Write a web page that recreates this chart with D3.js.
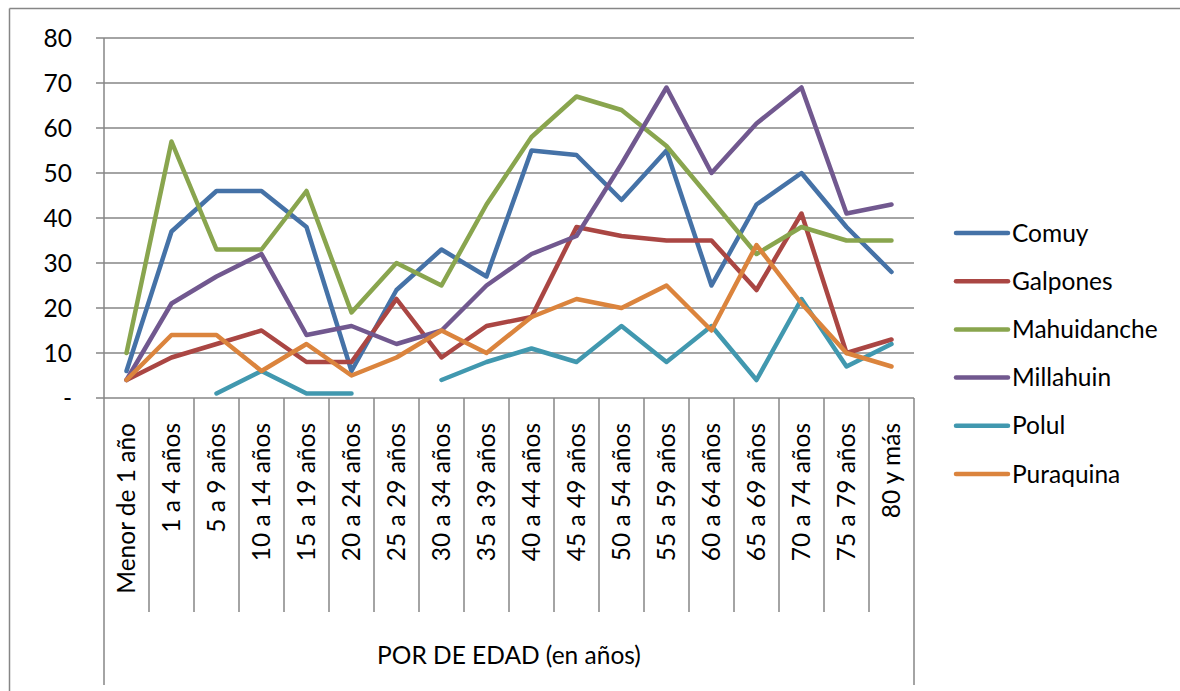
<!DOCTYPE html>
<html>
<head>
<meta charset="utf-8">
<script src="https://cdn.jsdelivr.net/npm/d3@7"></script>
<style>
  body { margin: 0; background: #fff; }
  svg { display: block; }
  text { font-family: Lato, "Open Sans", sans-serif; fill: #000; }
</style>
</head>
<body>
<svg width="1180" height="691"></svg>
<script>
var categories = ["Menor de 1 año", "1 a 4 años", "5 a 9 años", "10 a 14 años", "15 a 19 años",
  "20 a 24 años", "25 a 29 años", "30 a 34 años", "35 a 39 años", "40 a 44 años", "45 a 49 años",
  "50 a 54 años", "55 a 59 años", "60 a 64 años", "65 a 69 años", "70 a 74 años", "75 a 79 años", "80 y más"];

var seriesNames = ["Comuy", "Galpones", "Mahuidanche", "Millahuin", "Polul", "Puraquina"];

var comuy       = [6, 37, 46, 46, 38, 6, 24, 33, 27, 55, 54, 44, 55, 25, 43, 50, 38, 28];
var galpones    = [4, 9, 12, 15, 8, 8, 22, 9, 16, 18, 38, 36, 35, 35, 24, 41, 10, 13];
var mahuidanche = [10, 57, 33, 33, 46, 19, 30, 25, 43, 58, 67, 64, 56, 44, 32, 38, 35, 35];
var millahuin   = [4, 21, 27, 32, 14, 16, 12, 15, 25, 32, 36, 52, 69, 50, 61, 69, 41, 43];
var polul       = [null, null, 1, 6, 1, 1, null, 4, 8, 11, 8, 16, 8, 16, 4, 22, 7, 12];
var puraquina   = [4, 14, 14, 6, 12, 5, 9, 15, 10, 18, 22, 20, 25, 15, 34, 21, 10, 7];

var yTicks = [0, 10, 20, 30, 40, 50, 60, 70, 80];
var xTitle = "POR DE EDAD (en años)";

var seriesValues = [comuy, galpones, mahuidanche, millahuin, polul, puraquina];
var colors = ["#4572A7", "#AA4643", "#89A54E", "#71588F", "#4198AF", "#DB843D"];

var svg = d3.select("svg");
var plotLeft = 104, plotRight = 914, plotTop = 38, plotBottom = 398;
var gridColor = "#868686";
var fontSize = 24.5;

// chart area border (cropped on the right and bottom)
svg.append("line").attr("x1", 9.5).attr("x2", 1180).attr("y1", 8.5).attr("y2", 8.5)
  .attr("stroke", gridColor).attr("stroke-width", 1.5);
svg.append("line").attr("x1", 9.5).attr("x2", 9.5).attr("y1", 8.5).attr("y2", 691)
  .attr("stroke", gridColor).attr("stroke-width", 1.5);

var x = d3.scaleBand().domain(categories).range([plotLeft, plotRight]).padding(0);
var y = d3.scaleLinear().domain([0, 80]).range([plotBottom, plotTop]);

// horizontal gridlines + tick marks
svg.append("g").selectAll("line")
  .data(yTicks)
  .enter().append("line")
  .attr("x1", plotLeft - 8)
  .attr("x2", plotRight)
  .attr("y1", function(d) { return y(d); })
  .attr("y2", function(d) { return y(d); })
  .attr("stroke", gridColor)
  .attr("stroke-width", 1.5);

// y labels
svg.append("g").selectAll("text")
  .data(yTicks)
  .enter().append("text")
  .attr("x", 72)
  .attr("y", function(d) { return y(d); })
  .attr("dy", "0.35em")
  .attr("text-anchor", "end")
  .attr("font-size", fontSize)
  .text(function(d) { return d === 0 ? "-" : d; });

// category separators
var edges = categories.map(function(c) { return x(c); }).concat([plotRight]);
svg.append("g").selectAll("line")
  .data(edges)
  .enter().append("line")
  .attr("x1", function(d) { return d; })
  .attr("x2", function(d) { return d; })
  .attr("y1", function(d, i) { return i === 0 ? plotTop : plotBottom; })
  .attr("y2", function(d, i) { return (i === 0 || i === edges.length - 1) ? 685 : 612; })
  .attr("stroke", gridColor)
  .attr("stroke-width", 1.5);

// category labels
svg.append("g").selectAll("text")
  .data(categories)
  .enter().append("text")
  .attr("transform", function(d) {
    return "translate(" + (x(d) + x.bandwidth() / 2) + ",423) rotate(-90)";
  })
  .attr("dy", "0.35em")
  .attr("text-anchor", "end")
  .attr("font-size", fontSize)
  .text(function(d) { return d; });

// x-axis title
svg.append("text")
  .attr("x", (plotLeft + plotRight) / 2)
  .attr("y", 655)
  .attr("dy", "0.35em")
  .attr("text-anchor", "middle")
  .attr("font-size", fontSize)
  .text(xTitle);

// series lines
var line = d3.line()
  .defined(function(d) { return d != null; })
  .x(function(d, i) { return x(categories[i]) + x.bandwidth() / 2; })
  .y(function(d) { return y(d); });

svg.append("g").selectAll("path")
  .data(seriesValues)
  .enter().append("path")
  .attr("d", line)
  .attr("fill", "none")
  .attr("stroke", function(d, i) { return colors[i]; })
  .attr("stroke-width", 4.5)
  .attr("stroke-linejoin", "round")
  .attr("stroke-linecap", "round");

// legend
var legend = svg.append("g")
  .selectAll("g")
  .data(seriesNames)
  .enter().append("g")
  .attr("transform", function(d, i) { return "translate(0," + (233 + i * 48.2) + ")"; });

legend.append("line")
  .attr("x1", 956).attr("x2", 1008)
  .attr("stroke", function(d, i) { return colors[i]; })
  .attr("stroke-width", 4.5)
  .attr("stroke-linecap", "round");

legend.append("text")
  .attr("x", 1012)
  .attr("dy", "0.35em")
  .attr("font-size", fontSize)
  .text(function(d) { return d; });
</script>
</body>
</html>
